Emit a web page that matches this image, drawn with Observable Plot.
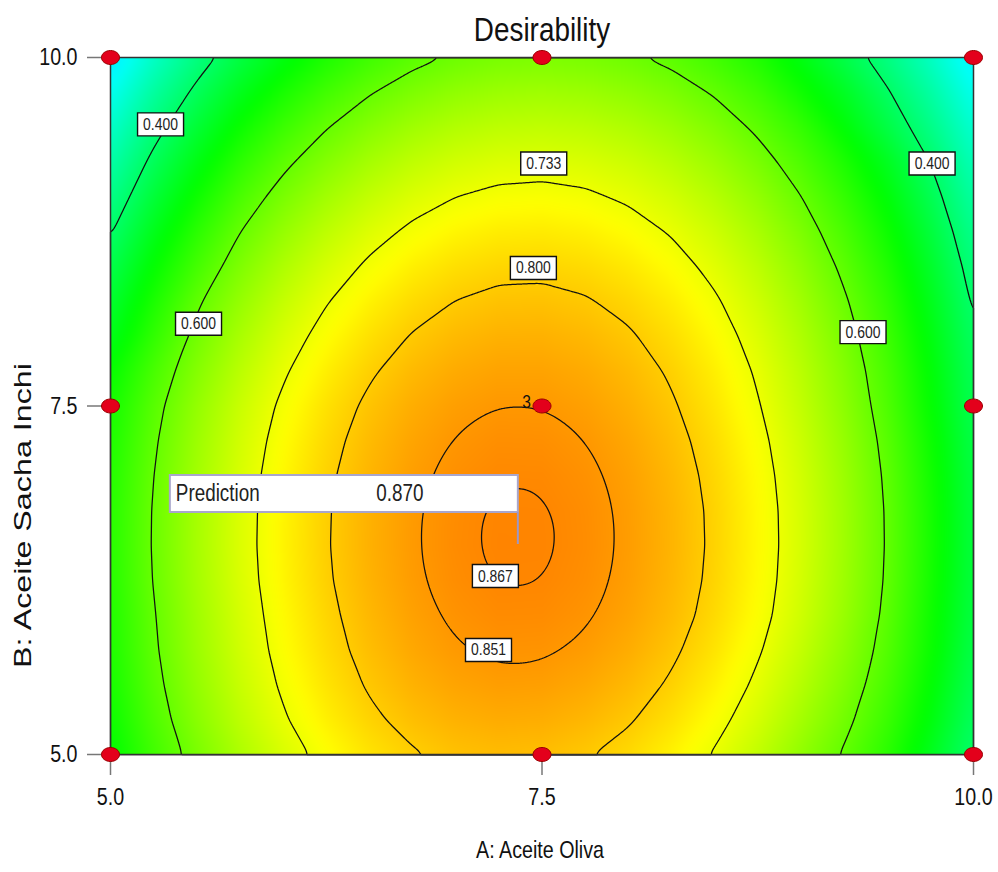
<!DOCTYPE html>
<html>
<head>
<meta charset="utf-8">
<script src="https://cdn.jsdelivr.net/npm/d3@7"></script>
<script src="https://cdn.jsdelivr.net/npm/@observablehq/plot@0.6"></script>
<style>
  html, body { margin: 0; padding: 0; background: #fff; }
  #chart svg { display: block; }
</style>
</head>
<body>
<div id="chart"></div>
<script>
// ---- Data ----
const chartTitle = "Desirability";
const xLabel = "A: Aceite Oliva";
const yLabel = "B: Aceite Sacha Inchi";
const xTicks = [5, 7.5, 10];
const yTicks = [5, 7.5, 10];

// grid of the response surface (rows = B, columns = A)
const aValues = [5, 5.25, 5.5, 5.75, 6, 6.25, 6.5, 6.75, 7, 7.25, 7.5, 7.75, 8, 8.25, 8.5, 8.75, 9, 9.25, 9.5, 9.75, 10];
const bValues = [5, 5.25, 5.5, 5.75, 6, 6.25, 6.5, 6.75, 7, 7.25, 7.5, 7.75, 8, 8.25, 8.5, 8.75, 9, 9.25, 9.5, 9.75, 10];
const desirability = [
  [0.4981, 0.5633, 0.6190, 0.6690, 0.7120, 0.7475, 0.7760, 0.7960, 0.8101, 0.8153, 0.8131, 0.8033, 0.7861, 0.7613, 0.7291, 0.6893, 0.6421, 0.5950, 0.5407, 0.4728, 0.3973],
  [0.5104, 0.5761, 0.6343, 0.6850, 0.7282, 0.7639, 0.7921, 0.8128, 0.8260, 0.8317, 0.8299, 0.8206, 0.8038, 0.7795, 0.7477, 0.7084, 0.6616, 0.6130, 0.5572, 0.4893, 0.4090],
  [0.5199, 0.5860, 0.6447, 0.6958, 0.7395, 0.7756, 0.8043, 0.8254, 0.8391, 0.8452, 0.8439, 0.8350, 0.8187, 0.7948, 0.7635, 0.7246, 0.6783, 0.6280, 0.5708, 0.5009, 0.4194],
  [0.5265, 0.5931, 0.6522, 0.7038, 0.7479, 0.7845, 0.8136, 0.8352, 0.8493, 0.8559, 0.8550, 0.8466, 0.8307, 0.8073, 0.7764, 0.7380, 0.6921, 0.6400, 0.5816, 0.5107, 0.4282],
  [0.5300, 0.5971, 0.6566, 0.7087, 0.7532, 0.7903, 0.8198, 0.8419, 0.8564, 0.8635, 0.8630, 0.8551, 0.8396, 0.8167, 0.7862, 0.7483, 0.7028, 0.6499, 0.5894, 0.5155, 0.4350],
  [0.5349, 0.6020, 0.6615, 0.7136, 0.7581, 0.7952, 0.8247, 0.8468, 0.8613, 0.8684, 0.8679, 0.8600, 0.8445, 0.8216, 0.7911, 0.7532, 0.7077, 0.6548, 0.5943, 0.5204, 0.4389],
  [0.5369, 0.6040, 0.6635, 0.7156, 0.7601, 0.7972, 0.8267, 0.8488, 0.8633, 0.8704, 0.8699, 0.8620, 0.8465, 0.8236, 0.7931, 0.7552, 0.7097, 0.6568, 0.5963, 0.5224, 0.4399],
  [0.5362, 0.6033, 0.6628, 0.7149, 0.7594, 0.7965, 0.8260, 0.8481, 0.8626, 0.8697, 0.8692, 0.8613, 0.8458, 0.8229, 0.7924, 0.7545, 0.7090, 0.6561, 0.5956, 0.5217, 0.4392],
  [0.5327, 0.5998, 0.6593, 0.7114, 0.7559, 0.7930, 0.8225, 0.8446, 0.8591, 0.8662, 0.8657, 0.8578, 0.8423, 0.8194, 0.7889, 0.7510, 0.7055, 0.6526, 0.5921, 0.5182, 0.4357],
  [0.5267, 0.5938, 0.6533, 0.7054, 0.7499, 0.7870, 0.8165, 0.8386, 0.8531, 0.8602, 0.8597, 0.8518, 0.8363, 0.8134, 0.7829, 0.7450, 0.6995, 0.6466, 0.5861, 0.5122, 0.4297],
  [0.5180, 0.5851, 0.6446, 0.6967, 0.7412, 0.7783, 0.8078, 0.8299, 0.8444, 0.8515, 0.8510, 0.8431, 0.8276, 0.8047, 0.7742, 0.7363, 0.6908, 0.6379, 0.5774, 0.5035, 0.4210],
  [0.5026, 0.5701, 0.6301, 0.6826, 0.7276, 0.7651, 0.7951, 0.8176, 0.8326, 0.8401, 0.8401, 0.8326, 0.8176, 0.7951, 0.7651, 0.7276, 0.6826, 0.6301, 0.5701, 0.4966, 0.4146],
  [0.4743, 0.5472, 0.6127, 0.6656, 0.7111, 0.7490, 0.7795, 0.8024, 0.8179, 0.8258, 0.8263, 0.8192, 0.8047, 0.7826, 0.7531, 0.7160, 0.6715, 0.6194, 0.5599, 0.4868, 0.4053],
  [0.4515, 0.5259, 0.5928, 0.6462, 0.6921, 0.7305, 0.7614, 0.7848, 0.8007, 0.8091, 0.8100, 0.8034, 0.7893, 0.7677, 0.7386, 0.7020, 0.6579, 0.6063, 0.5472, 0.4746, 0.3935],
  [0.4249, 0.5013, 0.5663, 0.6240, 0.6703, 0.7092, 0.7405, 0.7644, 0.7807, 0.7896, 0.7909, 0.7848, 0.7711, 0.7500, 0.7213, 0.6852, 0.6415, 0.5904, 0.5317, 0.4596, 0.3789],
  [0.3958, 0.4741, 0.5404, 0.5992, 0.6460, 0.6853, 0.7171, 0.7414, 0.7582, 0.7675, 0.7693, 0.7636, 0.7504, 0.7297, 0.7015, 0.6658, 0.6226, 0.5719, 0.5137, 0.4420, 0.3618],
  [0.3649, 0.4447, 0.5119, 0.5717, 0.6189, 0.6587, 0.6909, 0.7157, 0.7329, 0.7427, 0.7449, 0.7397, 0.7269, 0.7067, 0.6789, 0.6437, 0.6009, 0.5507, 0.4929, 0.4217, 0.3419],
  [0.3335, 0.4137, 0.4814, 0.5416, 0.5893, 0.6295, 0.6622, 0.6874, 0.7051, 0.7153, 0.7180, 0.7132, 0.7009, 0.6811, 0.6538, 0.6190, 0.5767, 0.5269, 0.4696, 0.3988, 0.3195],
  [0.2994, 0.3800, 0.4482, 0.5088, 0.5570, 0.5976, 0.6308, 0.6564, 0.6746, 0.6852, 0.6884, 0.6840, 0.6722, 0.6528, 0.6260, 0.5916, 0.5498, 0.4954, 0.4336, 0.3692, 0.2944],
  [0.2627, 0.3438, 0.4124, 0.4735, 0.5221, 0.5632, 0.5968, 0.6229, 0.6415, 0.6526, 0.6562, 0.6523, 0.6409, 0.6220, 0.5956, 0.5617, 0.5153, 0.4664, 0.4050, 0.3411, 0.2667],
  [0.2232, 0.3047, 0.3738, 0.4353, 0.4844, 0.5259, 0.5600, 0.5865, 0.6056, 0.6171, 0.6212, 0.6177, 0.6068, 0.5883, 0.5624, 0.5289, 0.4830, 0.4295, 0.3736, 0.3101, 0.2362]
];

const edgeLevels = [0.4];
const outerLevels = [0.6, 0.733, 0.8];
const innerLevels = [0.851, 0.867];
const contourLabels = [
  {label: "0.400", a: 5.29, b: 9.52},
  {label: "0.400", a: 9.76, b: 9.24},
  {label: "0.733", a: 7.51, b: 9.24},
  {label: "0.800", a: 7.45, b: 8.49},
  {label: "0.600", a: 5.51, b: 8.09},
  {label: "0.600", a: 9.36, b: 8.03},
  {label: "0.867", a: 7.23, b: 6.28},
  {label: "0.851", a: 7.19, b: 5.75}
];

const designA = [5, 7.5, 10];
const designB = [5, 7.5, 10];
const centerRuns = [{a: 7.5, b: 7.5, n: 3}];
const prediction = [{a: 7.36, b: 6.51, label: "Prediction", value: 0.870}];

// ---- build tables ----
const grid = bValues.flatMap((b, i) => aValues.map((a, j) => ({a, b, d: desirability[i][j]})));
const designPoints = designB.flatMap(b => designA.map(a => ({a, b})));

// ---- custom symbols ----
const K = 0.5523;
const ellipse = {draw(ctx) {
  const rx = 9, ry = 7;
  ctx.moveTo(rx, 0);
  ctx.bezierCurveTo(rx, ry * K, rx * K, ry, 0, ry);
  ctx.bezierCurveTo(-rx * K, ry, -rx, ry * K, -rx, 0);
  ctx.bezierCurveTo(-rx, -ry * K, -rx * K, -ry, 0, -ry);
  ctx.bezierCurveTo(rx * K, -ry, rx, -ry * K, rx, 0);
  ctx.closePath();
}};
const labelBox = {draw(ctx) { ctx.rect(-23, -11.5, 46, 23); }};
const flagBox = {draw(ctx) { ctx.rect(-348, -69, 348, 37); }};
const flagPole = {draw(ctx) { ctx.moveTo(0, -32); ctx.lineTo(0, 0); }};

const FONT = '"Liberation Sans", Arial, "Helvetica Neue", sans-serif';
const surface = {x: "a", y: "b", interpolate: "barycentric", x1: 5, x2: 10, y1: 5, y2: 10, pixelSize: 1};
const lineStyle = {fill: "none", stroke: "#111", strokeWidth: 1.25};

const plot = Plot.plot({
  width: 998,
  height: 872,
  marginLeft: 110,
  marginRight: 25,
  marginTop: 57,
  marginBottom: 118,
  x: {domain: [5, 10]},
  y: {domain: [5, 10]},
  color: {
    type: "linear",
    domain: [0, 0.25, 0.5, 0.75, 1],
    range: ["#0000ff", "#00ffff", "#00ff00", "#ffff00", "#ff0000"],
    interpolate: "rgb"
  },
  style: {fontFamily: FONT, fontSize: "24px", color: "#111", background: "#fff"},
  marks: [
    Plot.raster(grid, {...surface, fill: "d", blur: 5}),
    Plot.contour(grid, {...surface, value: "d", thresholds: edgeLevels, blur: 3, ...lineStyle}),
    Plot.contour(grid, {...surface, value: "d", thresholds: outerLevels, blur: 4, ...lineStyle}),
    Plot.contour(grid, {...surface, value: "d", thresholds: innerLevels, blur: 14, ...lineStyle}),
    Plot.frame({stroke: "#333", strokeWidth: 1.5}),
    Plot.axisX(xTicks, {label: null, tickFormat: d => d.toFixed(1), tickSize: 21, tickPadding: 12,
      stroke: "#777", strokeWidth: 1.5, fill: "#111", fontSize: 24}),
    Plot.axisY(yTicks, {label: null, tickFormat: d => d.toFixed(1), tickSize: 23, tickPadding: 10,
      stroke: "#777", strokeWidth: 1.5, fill: "#111", fontSize: 24}),
    // contour value labels
    Plot.dot(contourLabels, {x: "a", y: "b", symbol: labelBox, r: 1, fill: "#fff", stroke: "#111", strokeWidth: 1.4}),
    Plot.text(contourLabels, {x: "a", y: "b", text: "label", fontSize: 17, fill: "#222"}),
    // design points
    Plot.dot(designPoints, {x: "a", y: "b", symbol: ellipse, r: 1, fill: "#e3001b", stroke: "#9a0000", strokeWidth: 1}),
    Plot.text(centerRuns, {x: "a", y: "b", text: d => String(d.n), dx: -11, dy: -4, textAnchor: "end", fontSize: 19, fill: "#111"}),
    // prediction flag
    Plot.dot(prediction, {x: "a", y: "b", symbol: flagBox, r: 1, fill: "#fff", stroke: "#a9a6cc", strokeWidth: 2}),
    Plot.dot(prediction, {x: "a", y: "b", symbol: flagPole, r: 1, fill: "none", stroke: "#9d97c6", strokeWidth: 2}),
    Plot.text(prediction, {x: "a", y: "b", text: "label", dx: -342, dy: -50, textAnchor: "start", fontSize: 23, fill: "#222"}),
    Plot.text(prediction, {x: "a", y: "b", text: d => d.value.toFixed(3), dx: -118, dy: -50, fontSize: 23, fill: "#222"}),
    // titles
    Plot.text([chartTitle], {frameAnchor: "top", dy: -41, fontSize: 34, fill: "#111"}),
    Plot.text([xLabel], {frameAnchor: "bottom", dx: -2, dy: 103, fontSize: 24, fill: "#111"}),
    Plot.text([yLabel], {frameAnchor: "left", rotate: -90, textAnchor: "start", dx: -87, dy: 262, fontSize: 24, fill: "#111"})
  ]
});

document.getElementById("chart").appendChild(plot);

// narrow (condensed) lettering, as in the reference: squeeze each text about its own anchor
d3.select(plot).selectAll("text").each(function () {
  if (this.textContent === yLabel) {
    this.setAttribute("textLength", 305);
    this.setAttribute("lengthAdjust", "spacingAndGlyphs");
    return;
  }
  const box = this.getBBox();
  const anchor = getComputedStyle(this).textAnchor;
  const cx = anchor === "start" ? box.x : anchor === "end" ? box.x + box.width : box.x + box.width / 2;
  const t = this.getAttribute("transform") || "";
  this.setAttribute("transform", `${t} translate(${cx},0) scale(0.82,1) translate(${-cx},0)`.trim());
});
</script>
</body>
</html>
